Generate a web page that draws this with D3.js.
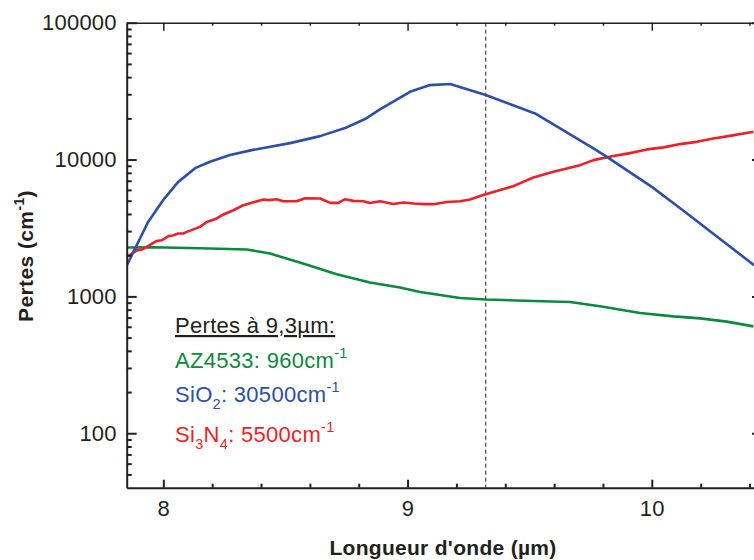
<!DOCTYPE html>
<html>
<head>
<meta charset="utf-8">
<script src="https://cdn.jsdelivr.net/npm/d3@7"></script>
<style>
  html, body { margin: 0; padding: 0; background: #fff; }
  svg { display: block; }
  text { font-family: "Liberation Sans", Arial, sans-serif; }
</style>
</head>
<body>
<svg id="chart" width="754" height="560"></svg>
<script>
// ---------- data ----------
const sio2X = [7.851, 7.937, 7.999, 8.060, 8.130, 8.191, 8.273, 8.362, 8.519, 8.642, 8.744, 8.826, 8.887, 9.010, 9.092, 9.174, 9.320, 9.522, 9.761, 9.816, 10.000, 10.123, 10.419];
const sio2Y = [1690, 3480, 5050, 6840, 8650, 9640, 10780, 11720, 13180, 14830, 16980, 19770, 23240, 31250, 35000, 35620, 29580, 21730, 12050, 10470, 6310, 4320, 1690];

const azX = [7.850, 7.958, 8.150, 8.342, 8.437, 8.572, 8.710, 8.846, 8.969, 9.051, 9.215, 9.320, 9.515, 9.665, 9.788, 9.952, 10.088, 10.198, 10.307, 10.416];
const azY = [2275, 2285, 2250, 2200, 2055, 1738, 1452, 1262, 1160, 1076, 973, 948, 925, 910, 847, 757, 714, 691, 654, 604];

const sinX = [7.850, 7.891, 7.912, 7.932, 7.973, 7.993, 8.020, 8.041, 8.061, 8.082, 8.096, 8.150, 8.178, 8.219, 8.246, 8.287, 8.328, 8.369, 8.410, 8.430, 8.464, 8.491, 8.546, 8.580, 8.642, 8.683, 8.717, 8.744, 8.778, 8.819, 8.846, 8.887, 8.942, 8.983, 9.024, 9.065, 9.106, 9.161, 9.215, 9.256, 9.297, 9.338, 9.433, 9.515, 9.597, 9.652, 9.706, 9.761, 9.843, 9.911, 9.980, 10.048, 10.116, 10.184, 10.252, 10.320, 10.416];
const sinY = [1940, 2170, 2200, 2300, 2540, 2570, 2750, 2800, 2880, 2880, 2960, 3220, 3500, 3710, 3970, 4260, 4640, 4880, 5100, 5050, 5130, 4960, 4960, 5220, 5190, 4820, 4820, 5130, 4990, 4960, 4820, 4960, 4740, 4850, 4770, 4720, 4720, 4900, 4960, 5100, 5420, 5700, 6390, 7390, 8130, 8600, 9100, 9900, 10600, 11140, 11860, 12270, 12970, 13470, 14260, 14900, 15950];

const xMajorTicks = [8, 9, 10];
const xMinorTicks = [8.2, 8.4, 8.6, 8.8, 9.2, 9.4, 9.6, 9.8, 10.2, 10.4];
const yMajorTicks = [100, 1000, 10000, 100000];
const yMinorTicks = [50, 60, 70, 80, 90, 200, 300, 400, 500, 600, 700, 800, 900, 2000, 3000, 4000, 5000, 6000, 7000, 8000, 9000, 20000, 30000, 40000, 50000, 60000, 70000, 80000, 90000];
const markerX = 9.32;

const xTitle = "Longueur d'onde (µm)";
const yTitleParts = [["Pertes (cm", "n"], ["-1", "sup"], [")", "n"]];
const legendTitle = "Pertes à 9,3µm:";
const legendRows = [
  { key: "az",  parts: [["AZ4533: 960cm", "n"], ["-1", "sup"]] },
  { key: "sio", parts: [["SiO", "n"], ["2", "sub"], [": 30500cm", "n"], ["-1", "sup"]] },
  { key: "sin", parts: [["Si", "n"], ["3", "sub"], ["N", "n"], ["4", "sub"], [": 5500cm", "n"], ["-1", "sup"]] }
];

// ---------- styles ----------
const colors = { az: "#0b8a3f", sio: "#2c50a4", sin: "#ee1f26" };
const ink = "#231f20";
const fontSize = 22;

const svg = d3.select("#chart");
const pLeft = 126.7, pRight = 760, pTop = 22.7, pBottom = 487.7;

const x = d3.scaleLinear().domain([7.85, 10.443]).range([pLeft, pRight]);
const y = d3.scaleLog().domain([40, 100000]).range([pBottom, pTop]);

// clip
svg.append("defs").append("clipPath").attr("id", "clip")
  .append("rect").attr("x", pLeft).attr("y", pTop).attr("width", pRight - pLeft).attr("height", pBottom - pTop);

// dashed marker
svg.append("line")
  .attr("x1", x(markerX)).attr("x2", x(markerX))
  .attr("y1", y(100000)).attr("y2", y(40))
  .attr("stroke", ink).attr("stroke-width", 1).attr("stroke-dasharray", "4,3");

// lines
const series = [
  { key: "az", xs: azX, ys: azY },
  { key: "sin", xs: sinX, ys: sinY },
  { key: "sio", xs: sio2X, ys: sio2Y }
];
const lineGen = d3.line().x(d => x(d[0])).y(d => y(d[1])).curve(d3.curveLinear);
const lg = svg.append("g").attr("clip-path", "url(#clip)");
series.forEach(s => {
  const pts = s.xs.map((v, i) => [v, s.ys[i]]);
  lg.append("path").datum(pts)
    .attr("d", lineGen)
    .attr("fill", "none")
    .attr("stroke", colors[s.key])
    .attr("stroke-width", 2.6)
    .attr("stroke-linejoin", "round");
});

// axes
function styleAxis(g, width) {
  g.selectAll("path.domain").attr("stroke", ink).attr("stroke-width", width);
  g.selectAll(".tick line").attr("stroke", ink).attr("stroke-width", width);
  g.selectAll("text").attr("fill", ink)
    .style("font-family", '"Liberation Sans", Arial, sans-serif')
    .style("font-size", fontSize + "px")
    .style("letter-spacing", "0.2px");
}

// bottom
const gb = svg.append("g").attr("transform", `translate(0,${pBottom})`)
  .call(d3.axisBottom(x).tickValues(xMajorTicks).tickSize(-8).tickSizeOuter(0).tickPadding(13).tickFormat(d3.format("d")));
styleAxis(gb, 2);
const gbm = svg.append("g").attr("transform", `translate(0,${pBottom})`)
  .call(d3.axisBottom(x).tickValues(xMinorTicks).tickSize(-4).tickSizeOuter(0).tickFormat(""));
styleAxis(gbm, 2);
gbm.select("path.domain").remove();

// top
const gt = svg.append("g").attr("transform", `translate(0,${pTop})`)
  .call(d3.axisTop(x).tickValues(xMajorTicks).tickSize(-8).tickSizeOuter(0).tickFormat(""));
styleAxis(gt, 1.5);
const gtm = svg.append("g").attr("transform", `translate(0,${pTop})`)
  .call(d3.axisTop(x).tickValues(xMinorTicks).tickSize(-3).tickSizeOuter(0).tickFormat(""));
styleAxis(gtm, 1.5);
gtm.select("path.domain").remove();

// left
const gl = svg.append("g").attr("transform", `translate(${pLeft},0)`)
  .call(d3.axisLeft(y).tickValues(yMajorTicks).tickSize(-10).tickSizeOuter(0).tickPadding(10).tickFormat(d3.format("d")));
styleAxis(gl, 2);
const glm = svg.append("g").attr("transform", `translate(${pLeft},0)`)
  .call(d3.axisLeft(y).tickValues(yMinorTicks).tickSize(-5).tickSizeOuter(0).tickFormat(""));
styleAxis(glm, 2);
glm.select("path.domain").remove();

// right
const gr = svg.append("g").attr("transform", `translate(${pRight},0)`)
  .call(d3.axisRight(y).tickValues(yMajorTicks).tickSize(-8).tickSizeOuter(0).tickFormat(""));
styleAxis(gr, 2);

// axis titles
svg.append("text")
  .attr("x", 443).attr("y", 555)
  .attr("text-anchor", "middle")
  .attr("fill", ink).attr("font-weight", "bold")
  .style("font-size", "21px").style("letter-spacing", "0.3px")
  .text(xTitle);

function addParts(textSel, parts, baseSize) {
  let shift = 0;
  parts.forEach(([str, kind]) => {
    let target = 0, size = baseSize;
    if (kind === "sup") { target = -0.45 * baseSize; size = baseSize * 0.66; }
    if (kind === "sub") { target = 0.33 * baseSize; size = baseSize * 0.66; }
    textSel.append("tspan")
      .attr("dy", target - shift)
      .style("font-size", size + "px")
      .text(str);
    shift = target;
  });
}

const yt = svg.append("text")
  .attr("transform", "translate(33,256) rotate(-90)")
  .attr("text-anchor", "middle")
  .attr("fill", ink).attr("font-weight", "bold")
  .style("letter-spacing", "0.4px");
addParts(yt, yTitleParts, 21);

// legend
svg.append("text")
  .attr("x", 175).attr("y", 333)
  .attr("fill", ink)
  .style("font-size", fontSize + "px").style("letter-spacing", "0.3px")
  .style("text-decoration", "underline")
  .text(legendTitle);

const legendBaselines = [367.5, 402, 442];
legendRows.forEach((row, i) => {
  const t = svg.append("text")
    .attr("x", 175).attr("y", legendBaselines[i])
    .attr("fill", colors[row.key])
    .style("letter-spacing", "0.3px");
  addParts(t, row.parts, fontSize);
});
</script>
</body>
</html>
